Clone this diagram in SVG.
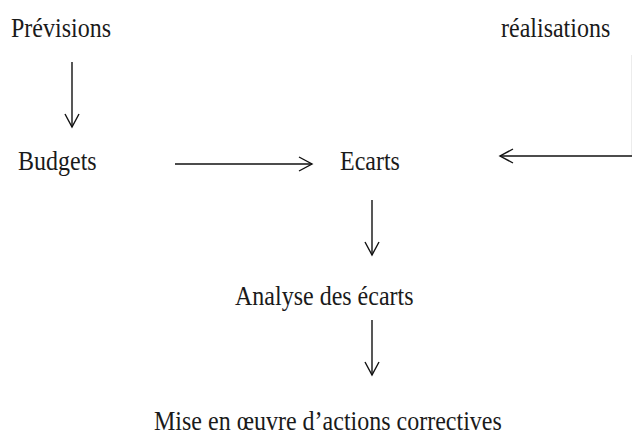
<svg xmlns="http://www.w3.org/2000/svg" width="632" height="444" viewBox="0 0 632 444">
  <style>
    text { font-family: "Liberation Serif", "Times New Roman", serif; font-size: 24px; fill: #1a1a1a; }
    .c { stroke: #111; stroke-width: 1.4; fill: none; }
    .faint { stroke: #ececec; stroke-width: 1; fill: none; }
  </style>
  <defs>
    <marker id="ah" markerUnits="userSpaceOnUse" markerWidth="20" markerHeight="20" viewBox="-14 -10 16 20" refX="0" refY="0" orient="auto">
      <path d="M-13,-7 L0,0 L-13,7" fill="none" stroke="#111" stroke-width="1.4"/>
    </marker>
  </defs>
  <rect width="632" height="444" fill="#fff"/>
  <g id="previsions"><text transform="translate(11,37) scale(1,1.15)">Prévisions</text></g>
  <g id="realisations"><text transform="translate(501,37) scale(1,1.15)">réalisations</text></g>
  <g id="budgets"><text transform="translate(18,170) scale(1,1.15)">Budgets</text></g>
  <g id="ecarts"><text transform="translate(340,170) scale(1,1.15)">Ecarts</text></g>
  <g id="analyse"><text transform="translate(235,305) scale(1,1.15)">Analyse des écarts</text></g>
  <g id="actions"><text transform="translate(154,430) scale(1,1.15)">Mise en œuvre d’actions correctives</text></g>
  <g id="connectors">
    <line class="c" x1="72" y1="62" x2="72" y2="127" marker-end="url(#ah)"/>
    <line class="c" x1="175" y1="164" x2="312" y2="164" marker-end="url(#ah)"/>
    <line class="faint" x1="631.5" y1="55" x2="631.5" y2="156"/>
    <line class="c" x1="632" y1="156" x2="500" y2="156" marker-end="url(#ah)"/>
    <line class="c" x1="372" y1="200" x2="372" y2="255" marker-end="url(#ah)"/>
    <line class="c" x1="372" y1="320" x2="372" y2="375" marker-end="url(#ah)"/>
  </g>
</svg>
